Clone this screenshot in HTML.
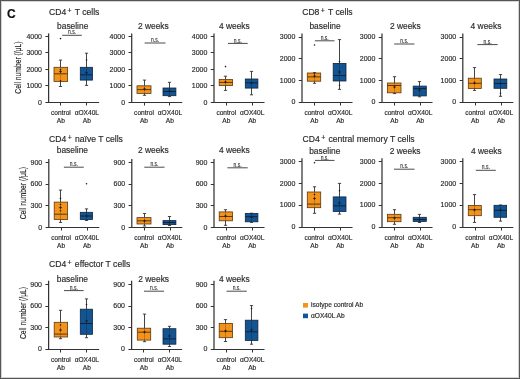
<!DOCTYPE html>
<html><head><meta charset="utf-8"><style>
html,body{margin:0;padding:0;background:#fff;}
body{width:520px;height:379px;overflow:hidden;}
svg{display:block;filter:blur(0.3px);font-family:"Liberation Sans", sans-serif;}
text{stroke:currentColor;stroke-width:0.16px;}
</style></head><body>
<svg width="520" height="379" viewBox="0 0 520 379">
<rect x="0" y="0" width="520" height="379" fill="#fff"/>
<line x1="48.6" y1="33.4" x2="48.6" y2="102.4" stroke="#333" stroke-width="1.25"/>
<line x1="46.1" y1="102.5" x2="99.1" y2="102.5" stroke="#333" stroke-width="1.15"/>
<line x1="60.5" y1="102.5" x2="60.5" y2="105.5" stroke="#333" stroke-width="1"/>
<line x1="86.5" y1="102.5" x2="86.5" y2="105.5" stroke="#333" stroke-width="1"/>
<line x1="45.4" y1="102.5" x2="48.6" y2="102.5" stroke="#333" stroke-width="1"/>
<text x="42.0" y="104.5" font-size="7.0" text-anchor="end" fill="#2a2a2a" color="#2a2a2a" >0</text>
<line x1="45.4" y1="85.5" x2="48.6" y2="85.5" stroke="#333" stroke-width="1"/>
<text x="42.0" y="88.0" font-size="7.0" text-anchor="end" fill="#2a2a2a" color="#2a2a2a" >1000</text>
<line x1="45.4" y1="69.5" x2="48.6" y2="69.5" stroke="#333" stroke-width="1"/>
<text x="42.0" y="71.5" font-size="7.0" text-anchor="end" fill="#2a2a2a" color="#2a2a2a" >2000</text>
<line x1="45.4" y1="52.5" x2="48.6" y2="52.5" stroke="#333" stroke-width="1"/>
<text x="42.0" y="55.00000000000001" font-size="7.0" text-anchor="end" fill="#2a2a2a" color="#2a2a2a" >3000</text>
<line x1="45.4" y1="36.5" x2="48.6" y2="36.5" stroke="#333" stroke-width="1"/>
<text x="42.0" y="38.50000000000001" font-size="7.0" text-anchor="end" fill="#2a2a2a" color="#2a2a2a" >4000</text>
<line x1="62.2" y1="35.3" x2="81.8" y2="35.3" stroke="#4a4a4a" stroke-width="1"/>
<text x="72.0" y="34.4" font-size="6.4" text-anchor="middle" fill="#3a3a3a" color="#3a3a3a" textLength="8" lengthAdjust="spacingAndGlyphs">n.s.</text>
<line x1="60.5" y1="60.1" x2="60.5" y2="67.3" stroke="#444" stroke-width="1"/>
<line x1="60.5" y1="81.4" x2="60.5" y2="86.5" stroke="#444" stroke-width="1"/>
<line x1="58.9" y1="60.1" x2="62.1" y2="60.1" stroke="#333" stroke-width="0.9"/>
<line x1="58.9" y1="86.5" x2="62.1" y2="86.5" stroke="#333" stroke-width="0.9"/>
<rect x="54" y="67.3" width="13.599999999999994" height="14.100000000000009" fill="#F4931B" stroke="#5a3a10" stroke-width="0.8"/>
<line x1="60.5" y1="67.3" x2="60.5" y2="81.4" stroke="#000" stroke-opacity="0.2" stroke-width="1"/>
<line x1="54" y1="73.8" x2="67.6" y2="73.8" stroke="#5a3a10" stroke-width="1"/>
<path d="M59.1 71.6h2.8M60.5 70.19999999999999v2.8" stroke="#1a1a1a" stroke-width="0.8" fill="none"/>
<circle cx="60.5" cy="38.6" r="0.8" fill="#1a1a1a"/>
<circle cx="60.5" cy="69.5" r="0.8" fill="#1a1a1a"/>
<circle cx="60.5" cy="80.8" r="0.8" fill="#1a1a1a"/>
<line x1="86.5" y1="53.2" x2="86.5" y2="67.3" stroke="#444" stroke-width="1"/>
<line x1="86.5" y1="80.1" x2="86.5" y2="85.4" stroke="#444" stroke-width="1"/>
<line x1="84.9" y1="53.2" x2="88.1" y2="53.2" stroke="#333" stroke-width="0.9"/>
<line x1="84.9" y1="85.4" x2="88.1" y2="85.4" stroke="#333" stroke-width="0.9"/>
<rect x="80.3" y="67.3" width="12.200000000000003" height="12.799999999999997" fill="#135492" stroke="#0d2440" stroke-width="0.8"/>
<line x1="86.5" y1="67.3" x2="86.5" y2="80.1" stroke="#000" stroke-opacity="0.2" stroke-width="1"/>
<line x1="80.3" y1="74.8" x2="92.5" y2="74.8" stroke="#0d2440" stroke-width="1"/>
<path d="M85.1 72.7h2.8M86.5 71.3v2.8" stroke="#1a1a1a" stroke-width="0.8" fill="none"/>
<circle cx="86.5" cy="60.0" r="0.8" fill="#1a1a1a"/>
<text x="60.900000000000006" y="114.60000000000001" font-size="6.6" text-anchor="middle" fill="#2a2a2a" color="#2a2a2a" >control</text>
<text x="60.900000000000006" y="122.7" font-size="6.6" text-anchor="middle" fill="#2a2a2a" color="#2a2a2a" >Ab</text>
<text x="86.80000000000001" y="114.60000000000001" font-size="6.6" text-anchor="middle" fill="#2a2a2a" color="#2a2a2a" >&#945;OX40L</text>
<text x="86.80000000000001" y="122.7" font-size="6.6" text-anchor="middle" fill="#2a2a2a" color="#2a2a2a" >Ab</text>
<text x="57.1" y="28.9" font-size="8.4" text-anchor="start" fill="#2a2a2a" color="#2a2a2a" >baseline</text>
<line x1="131.7" y1="33.4" x2="131.7" y2="102.4" stroke="#333" stroke-width="1.25"/>
<line x1="129.2" y1="102.5" x2="182.2" y2="102.5" stroke="#333" stroke-width="1.15"/>
<line x1="144.5" y1="102.5" x2="144.5" y2="105.5" stroke="#333" stroke-width="1"/>
<line x1="169.5" y1="102.5" x2="169.5" y2="105.5" stroke="#333" stroke-width="1"/>
<line x1="128.5" y1="102.5" x2="131.7" y2="102.5" stroke="#333" stroke-width="1"/>
<text x="125.1" y="104.5" font-size="7.0" text-anchor="end" fill="#2a2a2a" color="#2a2a2a" >0</text>
<line x1="128.5" y1="85.5" x2="131.7" y2="85.5" stroke="#333" stroke-width="1"/>
<text x="125.1" y="88.0" font-size="7.0" text-anchor="end" fill="#2a2a2a" color="#2a2a2a" >1000</text>
<line x1="128.5" y1="69.5" x2="131.7" y2="69.5" stroke="#333" stroke-width="1"/>
<text x="125.1" y="71.5" font-size="7.0" text-anchor="end" fill="#2a2a2a" color="#2a2a2a" >2000</text>
<line x1="128.5" y1="52.5" x2="131.7" y2="52.5" stroke="#333" stroke-width="1"/>
<text x="125.1" y="55.00000000000001" font-size="7.0" text-anchor="end" fill="#2a2a2a" color="#2a2a2a" >3000</text>
<line x1="128.5" y1="36.5" x2="131.7" y2="36.5" stroke="#333" stroke-width="1"/>
<text x="125.1" y="38.50000000000001" font-size="7.0" text-anchor="end" fill="#2a2a2a" color="#2a2a2a" >4000</text>
<line x1="144.6" y1="43.0" x2="165.5" y2="43.0" stroke="#4a4a4a" stroke-width="1"/>
<text x="155.05" y="42.1" font-size="6.4" text-anchor="middle" fill="#3a3a3a" color="#3a3a3a" textLength="8" lengthAdjust="spacingAndGlyphs">n.s.</text>
<line x1="144.5" y1="80.1" x2="144.5" y2="85.8" stroke="#444" stroke-width="1"/>
<line x1="144.5" y1="93.4" x2="144.5" y2="95.3" stroke="#444" stroke-width="1"/>
<line x1="142.9" y1="80.1" x2="146.1" y2="80.1" stroke="#333" stroke-width="0.9"/>
<line x1="142.9" y1="95.3" x2="146.1" y2="95.3" stroke="#333" stroke-width="0.9"/>
<rect x="137" y="85.8" width="14" height="7.6000000000000085" fill="#F4931B" stroke="#5a3a10" stroke-width="0.8"/>
<line x1="144.5" y1="85.8" x2="144.5" y2="93.4" stroke="#000" stroke-opacity="0.2" stroke-width="1"/>
<line x1="137" y1="89.6" x2="151" y2="89.6" stroke="#5a3a10" stroke-width="1"/>
<path d="M143.1 89.0h2.8M144.5 87.6v2.8" stroke="#1a1a1a" stroke-width="0.8" fill="none"/>
<line x1="169.5" y1="82.3" x2="169.5" y2="88" stroke="#444" stroke-width="1"/>
<line x1="169.5" y1="95.7" x2="169.5" y2="96.6" stroke="#444" stroke-width="1"/>
<line x1="167.9" y1="82.3" x2="171.1" y2="82.3" stroke="#333" stroke-width="0.9"/>
<line x1="167.9" y1="96.6" x2="171.1" y2="96.6" stroke="#333" stroke-width="0.9"/>
<rect x="163" y="88" width="12.900000000000006" height="7.700000000000003" fill="#135492" stroke="#0d2440" stroke-width="0.8"/>
<line x1="169.5" y1="88" x2="169.5" y2="95.7" stroke="#000" stroke-opacity="0.2" stroke-width="1"/>
<line x1="163" y1="91.5" x2="175.9" y2="91.5" stroke="#0d2440" stroke-width="1"/>
<path d="M168.1 91.0h2.8M169.5 89.6v2.8" stroke="#1a1a1a" stroke-width="0.8" fill="none"/>
<text x="144.0" y="114.60000000000001" font-size="6.6" text-anchor="middle" fill="#2a2a2a" color="#2a2a2a" >control</text>
<text x="144.0" y="122.7" font-size="6.6" text-anchor="middle" fill="#2a2a2a" color="#2a2a2a" >Ab</text>
<text x="169.89999999999998" y="114.60000000000001" font-size="6.6" text-anchor="middle" fill="#2a2a2a" color="#2a2a2a" >&#945;OX40L</text>
<text x="169.89999999999998" y="122.7" font-size="6.6" text-anchor="middle" fill="#2a2a2a" color="#2a2a2a" >Ab</text>
<text x="138" y="29.0" font-size="8.4" text-anchor="start" fill="#2a2a2a" color="#2a2a2a" >2 weeks</text>
<line x1="214" y1="33.4" x2="214" y2="102.4" stroke="#333" stroke-width="1.25"/>
<line x1="211.5" y1="102.5" x2="264.5" y2="102.5" stroke="#333" stroke-width="1.15"/>
<line x1="226.5" y1="102.5" x2="226.5" y2="105.5" stroke="#333" stroke-width="1"/>
<line x1="252.5" y1="102.5" x2="252.5" y2="105.5" stroke="#333" stroke-width="1"/>
<line x1="210.8" y1="102.5" x2="214" y2="102.5" stroke="#333" stroke-width="1"/>
<text x="207.4" y="104.5" font-size="7.0" text-anchor="end" fill="#2a2a2a" color="#2a2a2a" >0</text>
<line x1="210.8" y1="85.5" x2="214" y2="85.5" stroke="#333" stroke-width="1"/>
<text x="207.4" y="88.0" font-size="7.0" text-anchor="end" fill="#2a2a2a" color="#2a2a2a" >1000</text>
<line x1="210.8" y1="69.5" x2="214" y2="69.5" stroke="#333" stroke-width="1"/>
<text x="207.4" y="71.5" font-size="7.0" text-anchor="end" fill="#2a2a2a" color="#2a2a2a" >2000</text>
<line x1="210.8" y1="52.5" x2="214" y2="52.5" stroke="#333" stroke-width="1"/>
<text x="207.4" y="55.00000000000001" font-size="7.0" text-anchor="end" fill="#2a2a2a" color="#2a2a2a" >3000</text>
<line x1="210.8" y1="36.5" x2="214" y2="36.5" stroke="#333" stroke-width="1"/>
<text x="207.4" y="38.50000000000001" font-size="7.0" text-anchor="end" fill="#2a2a2a" color="#2a2a2a" >4000</text>
<line x1="228" y1="43.4" x2="247.7" y2="43.4" stroke="#4a4a4a" stroke-width="1"/>
<text x="237.85" y="42.5" font-size="6.4" text-anchor="middle" fill="#3a3a3a" color="#3a3a3a" textLength="8" lengthAdjust="spacingAndGlyphs">n.s.</text>
<line x1="225.5" y1="76.2" x2="225.5" y2="79.4" stroke="#444" stroke-width="1"/>
<line x1="225.5" y1="85.6" x2="225.5" y2="90.4" stroke="#444" stroke-width="1"/>
<line x1="223.9" y1="76.2" x2="227.1" y2="76.2" stroke="#333" stroke-width="0.9"/>
<line x1="223.9" y1="90.4" x2="227.1" y2="90.4" stroke="#333" stroke-width="0.9"/>
<rect x="219.2" y="79.4" width="13.400000000000006" height="6.199999999999989" fill="#F4931B" stroke="#5a3a10" stroke-width="0.8"/>
<line x1="225.5" y1="79.4" x2="225.5" y2="85.6" stroke="#000" stroke-opacity="0.2" stroke-width="1"/>
<line x1="219.2" y1="82.4" x2="232.6" y2="82.4" stroke="#5a3a10" stroke-width="1"/>
<path d="M224.1 82.0h2.8M225.5 80.6v2.8" stroke="#1a1a1a" stroke-width="0.8" fill="none"/>
<circle cx="225.5" cy="66.6" r="0.8" fill="#1a1a1a"/>
<line x1="251.5" y1="71.4" x2="251.5" y2="79" stroke="#444" stroke-width="1"/>
<line x1="251.5" y1="88.1" x2="251.5" y2="94.8" stroke="#444" stroke-width="1"/>
<line x1="249.9" y1="71.4" x2="253.1" y2="71.4" stroke="#333" stroke-width="0.9"/>
<line x1="249.9" y1="94.8" x2="253.1" y2="94.8" stroke="#333" stroke-width="0.9"/>
<rect x="245.3" y="79" width="12.599999999999966" height="9.099999999999994" fill="#135492" stroke="#0d2440" stroke-width="0.8"/>
<line x1="251.5" y1="79" x2="251.5" y2="88.1" stroke="#000" stroke-opacity="0.2" stroke-width="1"/>
<line x1="245.3" y1="82.8" x2="257.9" y2="82.8" stroke="#0d2440" stroke-width="1"/>
<path d="M250.1 83.0h2.8M251.5 81.6v2.8" stroke="#1a1a1a" stroke-width="0.8" fill="none"/>
<text x="226.3" y="114.60000000000001" font-size="6.6" text-anchor="middle" fill="#2a2a2a" color="#2a2a2a" >control</text>
<text x="226.3" y="122.7" font-size="6.6" text-anchor="middle" fill="#2a2a2a" color="#2a2a2a" >Ab</text>
<text x="252.2" y="114.60000000000001" font-size="6.6" text-anchor="middle" fill="#2a2a2a" color="#2a2a2a" >&#945;OX40L</text>
<text x="252.2" y="122.7" font-size="6.6" text-anchor="middle" fill="#2a2a2a" color="#2a2a2a" >Ab</text>
<text x="219" y="29.0" font-size="8.4" text-anchor="start" fill="#2a2a2a" color="#2a2a2a" >4 weeks</text>
<line x1="302" y1="33.6" x2="302" y2="102.1" stroke="#333" stroke-width="1.25"/>
<line x1="299.5" y1="102.5" x2="352.5" y2="102.5" stroke="#333" stroke-width="1.15"/>
<line x1="314.5" y1="102.5" x2="314.5" y2="105.5" stroke="#333" stroke-width="1"/>
<line x1="340.5" y1="102.5" x2="340.5" y2="105.5" stroke="#333" stroke-width="1"/>
<line x1="298.8" y1="102.5" x2="302" y2="102.5" stroke="#333" stroke-width="1"/>
<text x="295.4" y="104.19999999999999" font-size="7.0" text-anchor="end" fill="#2a2a2a" color="#2a2a2a" >0</text>
<line x1="298.8" y1="80.5" x2="302" y2="80.5" stroke="#333" stroke-width="1"/>
<text x="295.4" y="82.6" font-size="7.0" text-anchor="end" fill="#2a2a2a" color="#2a2a2a" >1000</text>
<line x1="298.8" y1="58.5" x2="302" y2="58.5" stroke="#333" stroke-width="1"/>
<text x="295.4" y="60.99999999999999" font-size="7.0" text-anchor="end" fill="#2a2a2a" color="#2a2a2a" >2000</text>
<line x1="298.8" y1="37.5" x2="302" y2="37.5" stroke="#333" stroke-width="1"/>
<text x="295.4" y="39.399999999999984" font-size="7.0" text-anchor="end" fill="#2a2a2a" color="#2a2a2a" >3000</text>
<line x1="314.9" y1="40.8" x2="334.5" y2="40.8" stroke="#4a4a4a" stroke-width="1"/>
<text x="324.7" y="39.9" font-size="6.4" text-anchor="middle" fill="#3a3a3a" color="#3a3a3a" textLength="8" lengthAdjust="spacingAndGlyphs">n.s.</text>
<line x1="314.5" y1="72.7" x2="314.5" y2="73.0" stroke="#444" stroke-width="1"/>
<line x1="314.5" y1="81.2" x2="314.5" y2="83.3" stroke="#444" stroke-width="1"/>
<line x1="312.9" y1="72.7" x2="316.1" y2="72.7" stroke="#333" stroke-width="0.9"/>
<line x1="312.9" y1="83.3" x2="316.1" y2="83.3" stroke="#333" stroke-width="0.9"/>
<rect x="307.3" y="73.0" width="13.399999999999977" height="8.200000000000003" fill="#F4931B" stroke="#5a3a10" stroke-width="0.8"/>
<line x1="314.5" y1="73.0" x2="314.5" y2="81.2" stroke="#000" stroke-opacity="0.2" stroke-width="1"/>
<line x1="307.3" y1="76.9" x2="320.7" y2="76.9" stroke="#5a3a10" stroke-width="1"/>
<path d="M313.1 76.0h2.8M314.5 74.6v2.8" stroke="#1a1a1a" stroke-width="0.8" fill="none"/>
<circle cx="314.5" cy="45.0" r="0.8" fill="#1a1a1a"/>
<circle cx="314.5" cy="73.2" r="0.8" fill="#1a1a1a"/>
<line x1="339.5" y1="39.6" x2="339.5" y2="63.4" stroke="#444" stroke-width="1"/>
<line x1="339.5" y1="81.0" x2="339.5" y2="89.4" stroke="#444" stroke-width="1"/>
<line x1="337.9" y1="39.6" x2="341.1" y2="39.6" stroke="#333" stroke-width="0.9"/>
<line x1="337.9" y1="89.4" x2="341.1" y2="89.4" stroke="#333" stroke-width="0.9"/>
<rect x="333.2" y="63.4" width="12.800000000000011" height="17.6" fill="#135492" stroke="#0d2440" stroke-width="0.8"/>
<line x1="339.5" y1="63.4" x2="339.5" y2="81.0" stroke="#000" stroke-opacity="0.2" stroke-width="1"/>
<line x1="333.2" y1="75.5" x2="346" y2="75.5" stroke="#0d2440" stroke-width="1"/>
<path d="M338.1 72.0h2.8M339.5 70.6v2.8" stroke="#1a1a1a" stroke-width="0.8" fill="none"/>
<circle cx="339.5" cy="85.2" r="0.8" fill="#1a1a1a"/>
<circle cx="339.5" cy="61.5" r="0.8" fill="#1a1a1a"/>
<text x="314.3" y="115.2" font-size="6.6" text-anchor="middle" fill="#2a2a2a" color="#2a2a2a" >control</text>
<text x="314.3" y="122.69999999999999" font-size="6.6" text-anchor="middle" fill="#2a2a2a" color="#2a2a2a" >Ab</text>
<text x="340.2" y="115.2" font-size="6.6" text-anchor="middle" fill="#2a2a2a" color="#2a2a2a" >&#945;OX40L</text>
<text x="340.2" y="122.69999999999999" font-size="6.6" text-anchor="middle" fill="#2a2a2a" color="#2a2a2a" >Ab</text>
<text x="309.4" y="28.799999999999997" font-size="8.4" text-anchor="start" fill="#2a2a2a" color="#2a2a2a" >baseline</text>
<line x1="382" y1="33.6" x2="382" y2="102.1" stroke="#333" stroke-width="1.25"/>
<line x1="379.5" y1="102.5" x2="432.5" y2="102.5" stroke="#333" stroke-width="1.15"/>
<line x1="394.5" y1="102.5" x2="394.5" y2="105.5" stroke="#333" stroke-width="1"/>
<line x1="420.5" y1="102.5" x2="420.5" y2="105.5" stroke="#333" stroke-width="1"/>
<line x1="378.8" y1="102.5" x2="382" y2="102.5" stroke="#333" stroke-width="1"/>
<text x="375.4" y="104.19999999999999" font-size="7.0" text-anchor="end" fill="#2a2a2a" color="#2a2a2a" >0</text>
<line x1="378.8" y1="80.5" x2="382" y2="80.5" stroke="#333" stroke-width="1"/>
<text x="375.4" y="82.6" font-size="7.0" text-anchor="end" fill="#2a2a2a" color="#2a2a2a" >1000</text>
<line x1="378.8" y1="58.5" x2="382" y2="58.5" stroke="#333" stroke-width="1"/>
<text x="375.4" y="60.99999999999999" font-size="7.0" text-anchor="end" fill="#2a2a2a" color="#2a2a2a" >2000</text>
<line x1="378.8" y1="37.5" x2="382" y2="37.5" stroke="#333" stroke-width="1"/>
<text x="375.4" y="39.399999999999984" font-size="7.0" text-anchor="end" fill="#2a2a2a" color="#2a2a2a" >3000</text>
<line x1="394.2" y1="44.0" x2="414.5" y2="44.0" stroke="#4a4a4a" stroke-width="1"/>
<text x="404.35" y="43.1" font-size="6.4" text-anchor="middle" fill="#3a3a3a" color="#3a3a3a" textLength="8" lengthAdjust="spacingAndGlyphs">n.s.</text>
<line x1="394.5" y1="76.7" x2="394.5" y2="83.0" stroke="#444" stroke-width="1"/>
<line x1="394.5" y1="92.8" x2="394.5" y2="93.6" stroke="#444" stroke-width="1"/>
<line x1="392.9" y1="76.7" x2="396.1" y2="76.7" stroke="#333" stroke-width="0.9"/>
<line x1="392.9" y1="93.6" x2="396.1" y2="93.6" stroke="#333" stroke-width="0.9"/>
<rect x="387.5" y="83.0" width="13.5" height="9.799999999999997" fill="#F4931B" stroke="#5a3a10" stroke-width="0.8"/>
<line x1="394.5" y1="83.0" x2="394.5" y2="92.8" stroke="#000" stroke-opacity="0.2" stroke-width="1"/>
<line x1="387.5" y1="85.5" x2="401" y2="85.5" stroke="#5a3a10" stroke-width="1"/>
<path d="M393.1 87.0h2.8M394.5 85.6v2.8" stroke="#1a1a1a" stroke-width="0.8" fill="none"/>
<line x1="419.5" y1="81.6" x2="419.5" y2="86.1" stroke="#444" stroke-width="1"/>
<line x1="419.5" y1="95.9" x2="419.5" y2="96.8" stroke="#444" stroke-width="1"/>
<line x1="417.9" y1="81.6" x2="421.1" y2="81.6" stroke="#333" stroke-width="0.9"/>
<line x1="417.9" y1="96.8" x2="421.1" y2="96.8" stroke="#333" stroke-width="0.9"/>
<rect x="413.2" y="86.1" width="13.100000000000023" height="9.800000000000011" fill="#135492" stroke="#0d2440" stroke-width="0.8"/>
<line x1="419.5" y1="86.1" x2="419.5" y2="95.9" stroke="#000" stroke-opacity="0.2" stroke-width="1"/>
<line x1="413.2" y1="88.6" x2="426.3" y2="88.6" stroke="#0d2440" stroke-width="1"/>
<path d="M418.1 90.0h2.8M419.5 88.6v2.8" stroke="#1a1a1a" stroke-width="0.8" fill="none"/>
<text x="394.3" y="115.2" font-size="6.6" text-anchor="middle" fill="#2a2a2a" color="#2a2a2a" >control</text>
<text x="394.3" y="122.69999999999999" font-size="6.6" text-anchor="middle" fill="#2a2a2a" color="#2a2a2a" >Ab</text>
<text x="420.2" y="115.2" font-size="6.6" text-anchor="middle" fill="#2a2a2a" color="#2a2a2a" >&#945;OX40L</text>
<text x="420.2" y="122.69999999999999" font-size="6.6" text-anchor="middle" fill="#2a2a2a" color="#2a2a2a" >Ab</text>
<text x="390" y="28.9" font-size="8.4" text-anchor="start" fill="#2a2a2a" color="#2a2a2a" >2 weeks</text>
<line x1="462.8" y1="33.6" x2="462.8" y2="102.1" stroke="#333" stroke-width="1.25"/>
<line x1="460.3" y1="102.5" x2="513.3" y2="102.5" stroke="#333" stroke-width="1.15"/>
<line x1="475.5" y1="102.5" x2="475.5" y2="105.5" stroke="#333" stroke-width="1"/>
<line x1="501.5" y1="102.5" x2="501.5" y2="105.5" stroke="#333" stroke-width="1"/>
<line x1="459.6" y1="102.5" x2="462.8" y2="102.5" stroke="#333" stroke-width="1"/>
<text x="456.2" y="104.19999999999999" font-size="7.0" text-anchor="end" fill="#2a2a2a" color="#2a2a2a" >0</text>
<line x1="459.6" y1="80.5" x2="462.8" y2="80.5" stroke="#333" stroke-width="1"/>
<text x="456.2" y="82.6" font-size="7.0" text-anchor="end" fill="#2a2a2a" color="#2a2a2a" >1000</text>
<line x1="459.6" y1="58.5" x2="462.8" y2="58.5" stroke="#333" stroke-width="1"/>
<text x="456.2" y="60.99999999999999" font-size="7.0" text-anchor="end" fill="#2a2a2a" color="#2a2a2a" >2000</text>
<line x1="459.6" y1="37.5" x2="462.8" y2="37.5" stroke="#333" stroke-width="1"/>
<text x="456.2" y="39.399999999999984" font-size="7.0" text-anchor="end" fill="#2a2a2a" color="#2a2a2a" >3000</text>
<line x1="477.4" y1="44.6" x2="497.7" y2="44.6" stroke="#4a4a4a" stroke-width="1"/>
<text x="487.54999999999995" y="43.7" font-size="6.4" text-anchor="middle" fill="#3a3a3a" color="#3a3a3a" textLength="8" lengthAdjust="spacingAndGlyphs">n.s.</text>
<line x1="474.5" y1="67.6" x2="474.5" y2="78.2" stroke="#444" stroke-width="1"/>
<line x1="474.5" y1="88.5" x2="474.5" y2="90.4" stroke="#444" stroke-width="1"/>
<line x1="472.9" y1="67.6" x2="476.1" y2="67.6" stroke="#333" stroke-width="0.9"/>
<line x1="472.9" y1="90.4" x2="476.1" y2="90.4" stroke="#333" stroke-width="0.9"/>
<rect x="468.3" y="78.2" width="13.0" height="10.299999999999997" fill="#F4931B" stroke="#5a3a10" stroke-width="0.8"/>
<line x1="474.5" y1="78.2" x2="474.5" y2="88.5" stroke="#000" stroke-opacity="0.2" stroke-width="1"/>
<line x1="468.3" y1="83.3" x2="481.3" y2="83.3" stroke="#5a3a10" stroke-width="1"/>
<path d="M473.1 83.0h2.8M474.5 81.6v2.8" stroke="#1a1a1a" stroke-width="0.8" fill="none"/>
<line x1="500.5" y1="74.6" x2="500.5" y2="79" stroke="#444" stroke-width="1"/>
<line x1="500.5" y1="88.3" x2="500.5" y2="96.3" stroke="#444" stroke-width="1"/>
<line x1="498.9" y1="74.6" x2="502.1" y2="74.6" stroke="#333" stroke-width="0.9"/>
<line x1="498.9" y1="96.3" x2="502.1" y2="96.3" stroke="#333" stroke-width="0.9"/>
<rect x="494" y="79" width="12.800000000000011" height="9.299999999999997" fill="#135492" stroke="#0d2440" stroke-width="0.8"/>
<line x1="500.5" y1="79" x2="500.5" y2="88.3" stroke="#000" stroke-opacity="0.2" stroke-width="1"/>
<line x1="494" y1="83.5" x2="506.8" y2="83.5" stroke="#0d2440" stroke-width="1"/>
<path d="M499.1 83.5h2.8M500.5 82.1v2.8" stroke="#1a1a1a" stroke-width="0.8" fill="none"/>
<circle cx="500.5" cy="93.3" r="0.8" fill="#1a1a1a"/>
<text x="475.1" y="115.2" font-size="6.6" text-anchor="middle" fill="#2a2a2a" color="#2a2a2a" >control</text>
<text x="475.1" y="122.69999999999999" font-size="6.6" text-anchor="middle" fill="#2a2a2a" color="#2a2a2a" >Ab</text>
<text x="501.0" y="115.2" font-size="6.6" text-anchor="middle" fill="#2a2a2a" color="#2a2a2a" >&#945;OX40L</text>
<text x="501.0" y="122.69999999999999" font-size="6.6" text-anchor="middle" fill="#2a2a2a" color="#2a2a2a" >Ab</text>
<text x="470.6" y="28.9" font-size="8.4" text-anchor="start" fill="#2a2a2a" color="#2a2a2a" >4 weeks</text>
<line x1="48.8" y1="159" x2="48.8" y2="227.4" stroke="#333" stroke-width="1.25"/>
<line x1="46.3" y1="227.5" x2="99.3" y2="227.5" stroke="#333" stroke-width="1.15"/>
<line x1="61.5" y1="227.5" x2="61.5" y2="230.5" stroke="#333" stroke-width="1"/>
<line x1="87.5" y1="227.5" x2="87.5" y2="230.5" stroke="#333" stroke-width="1"/>
<line x1="45.599999999999994" y1="227.5" x2="48.8" y2="227.5" stroke="#333" stroke-width="1"/>
<text x="42.199999999999996" y="229.5" font-size="7.0" text-anchor="end" fill="#2a2a2a" color="#2a2a2a" >0</text>
<line x1="45.599999999999994" y1="205.5" x2="48.8" y2="205.5" stroke="#333" stroke-width="1"/>
<text x="42.199999999999996" y="207.9" font-size="7.0" text-anchor="end" fill="#2a2a2a" color="#2a2a2a" >300</text>
<line x1="45.599999999999994" y1="184.5" x2="48.8" y2="184.5" stroke="#333" stroke-width="1"/>
<text x="42.199999999999996" y="186.29999999999998" font-size="7.0" text-anchor="end" fill="#2a2a2a" color="#2a2a2a" >600</text>
<line x1="45.599999999999994" y1="162.5" x2="48.8" y2="162.5" stroke="#333" stroke-width="1"/>
<text x="42.199999999999996" y="164.7" font-size="7.0" text-anchor="end" fill="#2a2a2a" color="#2a2a2a" >900</text>
<line x1="63.9" y1="167.2" x2="83.8" y2="167.2" stroke="#4a4a4a" stroke-width="1"/>
<text x="73.85" y="166.29999999999998" font-size="6.4" text-anchor="middle" fill="#3a3a3a" color="#3a3a3a" textLength="8" lengthAdjust="spacingAndGlyphs">n.s.</text>
<line x1="60.5" y1="190.1" x2="60.5" y2="202.1" stroke="#444" stroke-width="1"/>
<line x1="60.5" y1="219.5" x2="60.5" y2="222.4" stroke="#444" stroke-width="1"/>
<line x1="58.9" y1="190.1" x2="62.1" y2="190.1" stroke="#333" stroke-width="0.9"/>
<line x1="58.9" y1="222.4" x2="62.1" y2="222.4" stroke="#333" stroke-width="0.9"/>
<rect x="54.2" y="202.1" width="13.399999999999991" height="17.400000000000006" fill="#F4931B" stroke="#5a3a10" stroke-width="0.8"/>
<line x1="60.5" y1="202.1" x2="60.5" y2="219.5" stroke="#000" stroke-opacity="0.2" stroke-width="1"/>
<line x1="54.2" y1="214.2" x2="67.6" y2="214.2" stroke="#5a3a10" stroke-width="1"/>
<path d="M59.1 207.6h2.8M60.5 206.2v2.8" stroke="#1a1a1a" stroke-width="0.8" fill="none"/>
<circle cx="60.5" cy="198.4" r="0.8" fill="#1a1a1a"/>
<circle cx="60.5" cy="204.5" r="0.8" fill="#1a1a1a"/>
<circle cx="60.5" cy="210.8" r="0.8" fill="#1a1a1a"/>
<line x1="86.5" y1="208.9" x2="86.5" y2="212.3" stroke="#444" stroke-width="1"/>
<line x1="86.5" y1="219.5" x2="86.5" y2="220.5" stroke="#444" stroke-width="1"/>
<line x1="84.9" y1="208.9" x2="88.1" y2="208.9" stroke="#333" stroke-width="0.9"/>
<line x1="84.9" y1="220.5" x2="88.1" y2="220.5" stroke="#333" stroke-width="0.9"/>
<rect x="80.3" y="212.3" width="12.200000000000003" height="7.199999999999989" fill="#135492" stroke="#0d2440" stroke-width="0.8"/>
<line x1="86.5" y1="212.3" x2="86.5" y2="219.5" stroke="#000" stroke-opacity="0.2" stroke-width="1"/>
<line x1="80.3" y1="216" x2="92.5" y2="216" stroke="#0d2440" stroke-width="1"/>
<path d="M85.1 216.0h2.8M86.5 214.6v2.8" stroke="#1a1a1a" stroke-width="0.8" fill="none"/>
<circle cx="86.5" cy="183.8" r="0.8" fill="#1a1a1a"/>
<text x="61.099999999999994" y="239.6" font-size="6.6" text-anchor="middle" fill="#2a2a2a" color="#2a2a2a" >control</text>
<text x="61.099999999999994" y="247.70000000000002" font-size="6.6" text-anchor="middle" fill="#2a2a2a" color="#2a2a2a" >Ab</text>
<text x="87.0" y="239.6" font-size="6.6" text-anchor="middle" fill="#2a2a2a" color="#2a2a2a" >&#945;OX40L</text>
<text x="87.0" y="247.70000000000002" font-size="6.6" text-anchor="middle" fill="#2a2a2a" color="#2a2a2a" >Ab</text>
<text x="56.8" y="153.1" font-size="8.4" text-anchor="start" fill="#2a2a2a" color="#2a2a2a" >baseline</text>
<line x1="131.8" y1="159" x2="131.8" y2="227.4" stroke="#333" stroke-width="1.25"/>
<line x1="129.3" y1="227.5" x2="182.3" y2="227.5" stroke="#333" stroke-width="1.15"/>
<line x1="144.5" y1="227.5" x2="144.5" y2="230.5" stroke="#333" stroke-width="1"/>
<line x1="170.5" y1="227.5" x2="170.5" y2="230.5" stroke="#333" stroke-width="1"/>
<line x1="128.60000000000002" y1="227.5" x2="131.8" y2="227.5" stroke="#333" stroke-width="1"/>
<text x="125.20000000000002" y="229.5" font-size="7.0" text-anchor="end" fill="#2a2a2a" color="#2a2a2a" >0</text>
<line x1="128.60000000000002" y1="205.5" x2="131.8" y2="205.5" stroke="#333" stroke-width="1"/>
<text x="125.20000000000002" y="207.9" font-size="7.0" text-anchor="end" fill="#2a2a2a" color="#2a2a2a" >300</text>
<line x1="128.60000000000002" y1="184.5" x2="131.8" y2="184.5" stroke="#333" stroke-width="1"/>
<text x="125.20000000000002" y="186.29999999999998" font-size="7.0" text-anchor="end" fill="#2a2a2a" color="#2a2a2a" >600</text>
<line x1="128.60000000000002" y1="162.5" x2="131.8" y2="162.5" stroke="#333" stroke-width="1"/>
<text x="125.20000000000002" y="164.7" font-size="7.0" text-anchor="end" fill="#2a2a2a" color="#2a2a2a" >900</text>
<line x1="144.3" y1="167.2" x2="164.5" y2="167.2" stroke="#4a4a4a" stroke-width="1"/>
<text x="154.4" y="166.29999999999998" font-size="6.4" text-anchor="middle" fill="#3a3a3a" color="#3a3a3a" textLength="8" lengthAdjust="spacingAndGlyphs">n.s.</text>
<line x1="144.5" y1="213.5" x2="144.5" y2="217.6" stroke="#444" stroke-width="1"/>
<line x1="144.5" y1="224.0" x2="144.5" y2="226" stroke="#444" stroke-width="1"/>
<line x1="142.9" y1="213.5" x2="146.1" y2="213.5" stroke="#333" stroke-width="0.9"/>
<line x1="142.9" y1="226" x2="146.1" y2="226" stroke="#333" stroke-width="0.9"/>
<rect x="137" y="217.6" width="14" height="6.400000000000006" fill="#F4931B" stroke="#5a3a10" stroke-width="0.8"/>
<line x1="144.5" y1="217.6" x2="144.5" y2="224.0" stroke="#000" stroke-opacity="0.2" stroke-width="1"/>
<line x1="137" y1="220.8" x2="151" y2="220.8" stroke="#5a3a10" stroke-width="1"/>
<path d="M143.1 221.0h2.8M144.5 219.6v2.8" stroke="#1a1a1a" stroke-width="0.8" fill="none"/>
<line x1="169.5" y1="216.5" x2="169.5" y2="220.6" stroke="#444" stroke-width="1"/>
<line x1="169.5" y1="224.6" x2="169.5" y2="225.5" stroke="#444" stroke-width="1"/>
<line x1="167.9" y1="216.5" x2="171.1" y2="216.5" stroke="#333" stroke-width="0.9"/>
<line x1="167.9" y1="225.5" x2="171.1" y2="225.5" stroke="#333" stroke-width="0.9"/>
<rect x="163" y="220.6" width="12.900000000000006" height="4.0" fill="#135492" stroke="#0d2440" stroke-width="0.8"/>
<line x1="169.5" y1="220.6" x2="169.5" y2="224.6" stroke="#000" stroke-opacity="0.2" stroke-width="1"/>
<line x1="163" y1="222.5" x2="175.9" y2="222.5" stroke="#0d2440" stroke-width="1"/>
<path d="M168.1 222.5h2.8M169.5 221.1v2.8" stroke="#1a1a1a" stroke-width="0.8" fill="none"/>
<text x="144.10000000000002" y="239.6" font-size="6.6" text-anchor="middle" fill="#2a2a2a" color="#2a2a2a" >control</text>
<text x="144.10000000000002" y="247.70000000000002" font-size="6.6" text-anchor="middle" fill="#2a2a2a" color="#2a2a2a" >Ab</text>
<text x="170.0" y="239.6" font-size="6.6" text-anchor="middle" fill="#2a2a2a" color="#2a2a2a" >&#945;OX40L</text>
<text x="170.0" y="247.70000000000002" font-size="6.6" text-anchor="middle" fill="#2a2a2a" color="#2a2a2a" >Ab</text>
<text x="138" y="153.3" font-size="8.4" text-anchor="start" fill="#2a2a2a" color="#2a2a2a" >2 weeks</text>
<line x1="214" y1="159" x2="214" y2="227.4" stroke="#333" stroke-width="1.25"/>
<line x1="211.5" y1="227.5" x2="264.5" y2="227.5" stroke="#333" stroke-width="1.15"/>
<line x1="226.5" y1="227.5" x2="226.5" y2="230.5" stroke="#333" stroke-width="1"/>
<line x1="252.5" y1="227.5" x2="252.5" y2="230.5" stroke="#333" stroke-width="1"/>
<line x1="210.8" y1="227.5" x2="214" y2="227.5" stroke="#333" stroke-width="1"/>
<text x="207.4" y="229.5" font-size="7.0" text-anchor="end" fill="#2a2a2a" color="#2a2a2a" >0</text>
<line x1="210.8" y1="205.5" x2="214" y2="205.5" stroke="#333" stroke-width="1"/>
<text x="207.4" y="207.9" font-size="7.0" text-anchor="end" fill="#2a2a2a" color="#2a2a2a" >300</text>
<line x1="210.8" y1="184.5" x2="214" y2="184.5" stroke="#333" stroke-width="1"/>
<text x="207.4" y="186.29999999999998" font-size="7.0" text-anchor="end" fill="#2a2a2a" color="#2a2a2a" >600</text>
<line x1="210.8" y1="162.5" x2="214" y2="162.5" stroke="#333" stroke-width="1"/>
<text x="207.4" y="164.7" font-size="7.0" text-anchor="end" fill="#2a2a2a" color="#2a2a2a" >900</text>
<line x1="227.4" y1="167.8" x2="247.7" y2="167.8" stroke="#4a4a4a" stroke-width="1"/>
<text x="237.55" y="166.9" font-size="6.4" text-anchor="middle" fill="#3a3a3a" color="#3a3a3a" textLength="8" lengthAdjust="spacingAndGlyphs">n.s.</text>
<line x1="225.5" y1="209.7" x2="225.5" y2="211.9" stroke="#444" stroke-width="1"/>
<line x1="225.5" y1="220.8" x2="225.5" y2="225.3" stroke="#444" stroke-width="1"/>
<line x1="223.9" y1="209.7" x2="227.1" y2="209.7" stroke="#333" stroke-width="0.9"/>
<line x1="223.9" y1="225.3" x2="227.1" y2="225.3" stroke="#333" stroke-width="0.9"/>
<rect x="219.2" y="211.9" width="13.400000000000006" height="8.900000000000006" fill="#F4931B" stroke="#5a3a10" stroke-width="0.8"/>
<line x1="225.5" y1="211.9" x2="225.5" y2="220.8" stroke="#000" stroke-opacity="0.2" stroke-width="1"/>
<line x1="219.2" y1="216.5" x2="232.6" y2="216.5" stroke="#5a3a10" stroke-width="1"/>
<path d="M224.1 216.0h2.8M225.5 214.6v2.8" stroke="#1a1a1a" stroke-width="0.8" fill="none"/>
<line x1="251.5" y1="213.2" x2="251.5" y2="213.5" stroke="#444" stroke-width="1"/>
<line x1="251.5" y1="221.8" x2="251.5" y2="222.4" stroke="#444" stroke-width="1"/>
<line x1="249.9" y1="213.2" x2="253.1" y2="213.2" stroke="#333" stroke-width="0.9"/>
<line x1="249.9" y1="222.4" x2="253.1" y2="222.4" stroke="#333" stroke-width="0.9"/>
<rect x="245.3" y="213.5" width="12.599999999999966" height="8.300000000000011" fill="#135492" stroke="#0d2440" stroke-width="0.8"/>
<line x1="251.5" y1="213.5" x2="251.5" y2="221.8" stroke="#000" stroke-opacity="0.2" stroke-width="1"/>
<line x1="245.3" y1="216.7" x2="257.9" y2="216.7" stroke="#0d2440" stroke-width="1"/>
<path d="M250.1 217.0h2.8M251.5 215.6v2.8" stroke="#1a1a1a" stroke-width="0.8" fill="none"/>
<text x="226.3" y="239.6" font-size="6.6" text-anchor="middle" fill="#2a2a2a" color="#2a2a2a" >control</text>
<text x="226.3" y="247.70000000000002" font-size="6.6" text-anchor="middle" fill="#2a2a2a" color="#2a2a2a" >Ab</text>
<text x="252.2" y="239.6" font-size="6.6" text-anchor="middle" fill="#2a2a2a" color="#2a2a2a" >&#945;OX40L</text>
<text x="252.2" y="247.70000000000002" font-size="6.6" text-anchor="middle" fill="#2a2a2a" color="#2a2a2a" >Ab</text>
<text x="218.9" y="153.3" font-size="8.4" text-anchor="start" fill="#2a2a2a" color="#2a2a2a" >4 weeks</text>
<line x1="302" y1="158.2" x2="302" y2="227.2" stroke="#333" stroke-width="1.25"/>
<line x1="299.5" y1="227.5" x2="352.5" y2="227.5" stroke="#333" stroke-width="1.15"/>
<line x1="314.5" y1="227.5" x2="314.5" y2="230.5" stroke="#333" stroke-width="1"/>
<line x1="340.5" y1="227.5" x2="340.5" y2="230.5" stroke="#333" stroke-width="1"/>
<line x1="298.8" y1="227.5" x2="302" y2="227.5" stroke="#333" stroke-width="1"/>
<text x="295.4" y="229.29999999999998" font-size="7.0" text-anchor="end" fill="#2a2a2a" color="#2a2a2a" >0</text>
<line x1="298.8" y1="205.5" x2="302" y2="205.5" stroke="#333" stroke-width="1"/>
<text x="295.4" y="207.45" font-size="7.0" text-anchor="end" fill="#2a2a2a" color="#2a2a2a" >1000</text>
<line x1="298.8" y1="183.5" x2="302" y2="183.5" stroke="#333" stroke-width="1"/>
<text x="295.4" y="185.6" font-size="7.0" text-anchor="end" fill="#2a2a2a" color="#2a2a2a" >2000</text>
<line x1="298.8" y1="161.5" x2="302" y2="161.5" stroke="#333" stroke-width="1"/>
<text x="295.4" y="163.74999999999997" font-size="7.0" text-anchor="end" fill="#2a2a2a" color="#2a2a2a" >3000</text>
<line x1="314.9" y1="160.4" x2="334.5" y2="160.4" stroke="#4a4a4a" stroke-width="1"/>
<text x="324.7" y="159.5" font-size="6.4" text-anchor="middle" fill="#3a3a3a" color="#3a3a3a" textLength="8" lengthAdjust="spacingAndGlyphs">n.s.</text>
<line x1="314.5" y1="186.8" x2="314.5" y2="192" stroke="#444" stroke-width="1"/>
<line x1="314.5" y1="207.7" x2="314.5" y2="213.3" stroke="#444" stroke-width="1"/>
<line x1="312.9" y1="186.8" x2="316.1" y2="186.8" stroke="#333" stroke-width="0.9"/>
<line x1="312.9" y1="213.3" x2="316.1" y2="213.3" stroke="#333" stroke-width="0.9"/>
<rect x="307.3" y="192" width="13.399999999999977" height="15.699999999999989" fill="#F4931B" stroke="#5a3a10" stroke-width="0.8"/>
<line x1="314.5" y1="192" x2="314.5" y2="207.7" stroke="#000" stroke-opacity="0.2" stroke-width="1"/>
<line x1="307.3" y1="204.1" x2="320.7" y2="204.1" stroke="#5a3a10" stroke-width="1"/>
<path d="M313.1 198.5h2.8M314.5 197.1v2.8" stroke="#1a1a1a" stroke-width="0.8" fill="none"/>
<circle cx="314.5" cy="162.7" r="0.8" fill="#1a1a1a"/>
<circle cx="314.5" cy="194.5" r="0.8" fill="#1a1a1a"/>
<line x1="339.5" y1="183.4" x2="339.5" y2="196.9" stroke="#444" stroke-width="1"/>
<line x1="339.5" y1="211.5" x2="339.5" y2="214.1" stroke="#444" stroke-width="1"/>
<line x1="337.9" y1="183.4" x2="341.1" y2="183.4" stroke="#333" stroke-width="0.9"/>
<line x1="337.9" y1="214.1" x2="341.1" y2="214.1" stroke="#333" stroke-width="0.9"/>
<rect x="333.2" y="196.9" width="12.800000000000011" height="14.599999999999994" fill="#135492" stroke="#0d2440" stroke-width="0.8"/>
<line x1="339.5" y1="196.9" x2="339.5" y2="211.5" stroke="#000" stroke-opacity="0.2" stroke-width="1"/>
<line x1="333.2" y1="205.8" x2="346" y2="205.8" stroke="#0d2440" stroke-width="1"/>
<path d="M338.1 203.0h2.8M339.5 201.6v2.8" stroke="#1a1a1a" stroke-width="0.8" fill="none"/>
<circle cx="339.5" cy="190.7" r="0.8" fill="#1a1a1a"/>
<text x="314.3" y="240.29999999999998" font-size="6.6" text-anchor="middle" fill="#2a2a2a" color="#2a2a2a" >control</text>
<text x="314.3" y="247.8" font-size="6.6" text-anchor="middle" fill="#2a2a2a" color="#2a2a2a" >Ab</text>
<text x="340.2" y="240.29999999999998" font-size="6.6" text-anchor="middle" fill="#2a2a2a" color="#2a2a2a" >&#945;OX40L</text>
<text x="340.2" y="247.8" font-size="6.6" text-anchor="middle" fill="#2a2a2a" color="#2a2a2a" >Ab</text>
<text x="309.2" y="153.8" font-size="8.4" text-anchor="start" fill="#2a2a2a" color="#2a2a2a" >baseline</text>
<line x1="382" y1="158.2" x2="382" y2="227.2" stroke="#333" stroke-width="1.25"/>
<line x1="379.5" y1="227.5" x2="432.5" y2="227.5" stroke="#333" stroke-width="1.15"/>
<line x1="394.5" y1="227.5" x2="394.5" y2="230.5" stroke="#333" stroke-width="1"/>
<line x1="420.5" y1="227.5" x2="420.5" y2="230.5" stroke="#333" stroke-width="1"/>
<line x1="378.8" y1="227.5" x2="382" y2="227.5" stroke="#333" stroke-width="1"/>
<text x="375.4" y="229.29999999999998" font-size="7.0" text-anchor="end" fill="#2a2a2a" color="#2a2a2a" >0</text>
<line x1="378.8" y1="205.5" x2="382" y2="205.5" stroke="#333" stroke-width="1"/>
<text x="375.4" y="207.45" font-size="7.0" text-anchor="end" fill="#2a2a2a" color="#2a2a2a" >1000</text>
<line x1="378.8" y1="183.5" x2="382" y2="183.5" stroke="#333" stroke-width="1"/>
<text x="375.4" y="185.6" font-size="7.0" text-anchor="end" fill="#2a2a2a" color="#2a2a2a" >2000</text>
<line x1="378.8" y1="161.5" x2="382" y2="161.5" stroke="#333" stroke-width="1"/>
<text x="375.4" y="163.74999999999997" font-size="7.0" text-anchor="end" fill="#2a2a2a" color="#2a2a2a" >3000</text>
<line x1="394" y1="169.2" x2="414.5" y2="169.2" stroke="#4a4a4a" stroke-width="1"/>
<text x="404.25" y="168.29999999999998" font-size="6.4" text-anchor="middle" fill="#3a3a3a" color="#3a3a3a" textLength="8" lengthAdjust="spacingAndGlyphs">n.s.</text>
<line x1="394.5" y1="209.7" x2="394.5" y2="214.3" stroke="#444" stroke-width="1"/>
<line x1="394.5" y1="221.7" x2="394.5" y2="224.3" stroke="#444" stroke-width="1"/>
<line x1="392.9" y1="209.7" x2="396.1" y2="209.7" stroke="#333" stroke-width="0.9"/>
<line x1="392.9" y1="224.3" x2="396.1" y2="224.3" stroke="#333" stroke-width="0.9"/>
<rect x="387.4" y="214.3" width="13.600000000000023" height="7.399999999999977" fill="#F4931B" stroke="#5a3a10" stroke-width="0.8"/>
<line x1="394.5" y1="214.3" x2="394.5" y2="221.7" stroke="#000" stroke-opacity="0.2" stroke-width="1"/>
<line x1="387.4" y1="217.7" x2="401" y2="217.7" stroke="#5a3a10" stroke-width="1"/>
<path d="M393.1 218.0h2.8M394.5 216.6v2.8" stroke="#1a1a1a" stroke-width="0.8" fill="none"/>
<line x1="419.5" y1="214.4" x2="419.5" y2="217.3" stroke="#444" stroke-width="1"/>
<line x1="419.5" y1="221.5" x2="419.5" y2="222.5" stroke="#444" stroke-width="1"/>
<line x1="417.9" y1="214.4" x2="421.1" y2="214.4" stroke="#333" stroke-width="0.9"/>
<line x1="417.9" y1="222.5" x2="421.1" y2="222.5" stroke="#333" stroke-width="0.9"/>
<rect x="413.2" y="217.3" width="13.100000000000023" height="4.199999999999989" fill="#135492" stroke="#0d2440" stroke-width="0.8"/>
<line x1="419.5" y1="217.3" x2="419.5" y2="221.5" stroke="#000" stroke-opacity="0.2" stroke-width="1"/>
<line x1="413.2" y1="219.5" x2="426.3" y2="219.5" stroke="#0d2440" stroke-width="1"/>
<path d="M418.1 219.5h2.8M419.5 218.1v2.8" stroke="#1a1a1a" stroke-width="0.8" fill="none"/>
<text x="394.3" y="240.29999999999998" font-size="6.6" text-anchor="middle" fill="#2a2a2a" color="#2a2a2a" >control</text>
<text x="394.3" y="247.8" font-size="6.6" text-anchor="middle" fill="#2a2a2a" color="#2a2a2a" >Ab</text>
<text x="420.2" y="240.29999999999998" font-size="6.6" text-anchor="middle" fill="#2a2a2a" color="#2a2a2a" >&#945;OX40L</text>
<text x="420.2" y="247.8" font-size="6.6" text-anchor="middle" fill="#2a2a2a" color="#2a2a2a" >Ab</text>
<text x="389.8" y="153.6" font-size="8.4" text-anchor="start" fill="#2a2a2a" color="#2a2a2a" >2 weeks</text>
<line x1="462.8" y1="158.2" x2="462.8" y2="227.2" stroke="#333" stroke-width="1.25"/>
<line x1="460.3" y1="227.5" x2="513.3" y2="227.5" stroke="#333" stroke-width="1.15"/>
<line x1="475.5" y1="227.5" x2="475.5" y2="230.5" stroke="#333" stroke-width="1"/>
<line x1="501.5" y1="227.5" x2="501.5" y2="230.5" stroke="#333" stroke-width="1"/>
<line x1="459.6" y1="227.5" x2="462.8" y2="227.5" stroke="#333" stroke-width="1"/>
<text x="456.2" y="229.29999999999998" font-size="7.0" text-anchor="end" fill="#2a2a2a" color="#2a2a2a" >0</text>
<line x1="459.6" y1="205.5" x2="462.8" y2="205.5" stroke="#333" stroke-width="1"/>
<text x="456.2" y="207.45" font-size="7.0" text-anchor="end" fill="#2a2a2a" color="#2a2a2a" >1000</text>
<line x1="459.6" y1="183.5" x2="462.8" y2="183.5" stroke="#333" stroke-width="1"/>
<text x="456.2" y="185.6" font-size="7.0" text-anchor="end" fill="#2a2a2a" color="#2a2a2a" >2000</text>
<line x1="459.6" y1="161.5" x2="462.8" y2="161.5" stroke="#333" stroke-width="1"/>
<text x="456.2" y="163.74999999999997" font-size="7.0" text-anchor="end" fill="#2a2a2a" color="#2a2a2a" >3000</text>
<line x1="475.8" y1="170.3" x2="495.8" y2="170.3" stroke="#4a4a4a" stroke-width="1"/>
<text x="485.8" y="169.4" font-size="6.4" text-anchor="middle" fill="#3a3a3a" color="#3a3a3a" textLength="8" lengthAdjust="spacingAndGlyphs">n.s.</text>
<line x1="474.5" y1="194.6" x2="474.5" y2="205.4" stroke="#444" stroke-width="1"/>
<line x1="474.5" y1="215.7" x2="474.5" y2="222.4" stroke="#444" stroke-width="1"/>
<line x1="472.9" y1="194.6" x2="476.1" y2="194.6" stroke="#333" stroke-width="0.9"/>
<line x1="472.9" y1="222.4" x2="476.1" y2="222.4" stroke="#333" stroke-width="0.9"/>
<rect x="468.3" y="205.4" width="13.0" height="10.299999999999983" fill="#F4931B" stroke="#5a3a10" stroke-width="0.8"/>
<line x1="474.5" y1="205.4" x2="474.5" y2="215.7" stroke="#000" stroke-opacity="0.2" stroke-width="1"/>
<line x1="468.3" y1="209.7" x2="481.3" y2="209.7" stroke="#5a3a10" stroke-width="1"/>
<path d="M473.1 210.0h2.8M474.5 208.6v2.8" stroke="#1a1a1a" stroke-width="0.8" fill="none"/>
<circle cx="474.5" cy="218.0" r="0.8" fill="#1a1a1a"/>
<line x1="500.5" y1="205" x2="500.5" y2="205.3" stroke="#444" stroke-width="1"/>
<line x1="500.5" y1="217.3" x2="500.5" y2="221.1" stroke="#444" stroke-width="1"/>
<line x1="498.9" y1="205" x2="502.1" y2="205" stroke="#333" stroke-width="0.9"/>
<line x1="498.9" y1="221.1" x2="502.1" y2="221.1" stroke="#333" stroke-width="0.9"/>
<rect x="494" y="205.3" width="12.600000000000023" height="12.0" fill="#135492" stroke="#0d2440" stroke-width="0.8"/>
<line x1="500.5" y1="205.3" x2="500.5" y2="217.3" stroke="#000" stroke-opacity="0.2" stroke-width="1"/>
<line x1="494" y1="210.4" x2="506.6" y2="210.4" stroke="#0d2440" stroke-width="1"/>
<path d="M499.1 210.0h2.8M500.5 208.6v2.8" stroke="#1a1a1a" stroke-width="0.8" fill="none"/>
<text x="475.1" y="240.29999999999998" font-size="6.6" text-anchor="middle" fill="#2a2a2a" color="#2a2a2a" >control</text>
<text x="475.1" y="247.8" font-size="6.6" text-anchor="middle" fill="#2a2a2a" color="#2a2a2a" >Ab</text>
<text x="501.0" y="240.29999999999998" font-size="6.6" text-anchor="middle" fill="#2a2a2a" color="#2a2a2a" >&#945;OX40L</text>
<text x="501.0" y="247.8" font-size="6.6" text-anchor="middle" fill="#2a2a2a" color="#2a2a2a" >Ab</text>
<text x="471" y="153.6" font-size="8.4" text-anchor="start" fill="#2a2a2a" color="#2a2a2a" >4 weeks</text>
<line x1="48.6" y1="280.7" x2="48.6" y2="349.2" stroke="#333" stroke-width="1.25"/>
<line x1="46.1" y1="349.5" x2="99.1" y2="349.5" stroke="#333" stroke-width="1.15"/>
<line x1="60.5" y1="349.5" x2="60.5" y2="352.5" stroke="#333" stroke-width="1"/>
<line x1="86.5" y1="349.5" x2="86.5" y2="352.5" stroke="#333" stroke-width="1"/>
<line x1="45.4" y1="349.5" x2="48.6" y2="349.5" stroke="#333" stroke-width="1"/>
<text x="42.0" y="351.3" font-size="7.0" text-anchor="end" fill="#2a2a2a" color="#2a2a2a" >0</text>
<line x1="45.4" y1="327.5" x2="48.6" y2="327.5" stroke="#333" stroke-width="1"/>
<text x="42.0" y="329.7" font-size="7.0" text-anchor="end" fill="#2a2a2a" color="#2a2a2a" >300</text>
<line x1="45.4" y1="306.5" x2="48.6" y2="306.5" stroke="#333" stroke-width="1"/>
<text x="42.0" y="308.1" font-size="7.0" text-anchor="end" fill="#2a2a2a" color="#2a2a2a" >600</text>
<line x1="45.4" y1="284.5" x2="48.6" y2="284.5" stroke="#333" stroke-width="1"/>
<text x="42.0" y="286.5" font-size="7.0" text-anchor="end" fill="#2a2a2a" color="#2a2a2a" >900</text>
<line x1="64" y1="290.6" x2="83.7" y2="290.6" stroke="#4a4a4a" stroke-width="1"/>
<text x="73.85" y="289.70000000000005" font-size="6.4" text-anchor="middle" fill="#3a3a3a" color="#3a3a3a" textLength="8" lengthAdjust="spacingAndGlyphs">n.s.</text>
<line x1="60.5" y1="310.3" x2="60.5" y2="322.3" stroke="#444" stroke-width="1"/>
<line x1="60.5" y1="337" x2="60.5" y2="338.7" stroke="#444" stroke-width="1"/>
<line x1="58.9" y1="310.3" x2="62.1" y2="310.3" stroke="#333" stroke-width="0.9"/>
<line x1="58.9" y1="338.7" x2="62.1" y2="338.7" stroke="#333" stroke-width="0.9"/>
<rect x="54.2" y="322.3" width="13.399999999999991" height="14.699999999999989" fill="#F4931B" stroke="#5a3a10" stroke-width="0.8"/>
<line x1="60.5" y1="322.3" x2="60.5" y2="337" stroke="#000" stroke-opacity="0.2" stroke-width="1"/>
<line x1="54.2" y1="334.1" x2="67.6" y2="334.1" stroke="#5a3a10" stroke-width="1"/>
<path d="M59.1 330.0h2.8M60.5 328.6v2.8" stroke="#1a1a1a" stroke-width="0.8" fill="none"/>
<circle cx="60.5" cy="325.0" r="0.8" fill="#1a1a1a"/>
<line x1="86.5" y1="298.9" x2="86.5" y2="309.2" stroke="#444" stroke-width="1"/>
<line x1="86.5" y1="334.3" x2="86.5" y2="337.7" stroke="#444" stroke-width="1"/>
<line x1="84.9" y1="298.9" x2="88.1" y2="298.9" stroke="#333" stroke-width="0.9"/>
<line x1="84.9" y1="337.7" x2="88.1" y2="337.7" stroke="#333" stroke-width="0.9"/>
<rect x="80.3" y="309.2" width="12.200000000000003" height="25.100000000000023" fill="#135492" stroke="#0d2440" stroke-width="0.8"/>
<line x1="86.5" y1="309.2" x2="86.5" y2="334.3" stroke="#000" stroke-opacity="0.2" stroke-width="1"/>
<line x1="80.3" y1="323.5" x2="92.5" y2="323.5" stroke="#0d2440" stroke-width="1"/>
<path d="M85.1 321.0h2.8M86.5 319.6v2.8" stroke="#1a1a1a" stroke-width="0.8" fill="none"/>
<circle cx="86.5" cy="304.6" r="0.8" fill="#1a1a1a"/>
<text x="60.900000000000006" y="362.4" font-size="6.6" text-anchor="middle" fill="#2a2a2a" color="#2a2a2a" >control</text>
<text x="60.900000000000006" y="369.5" font-size="6.6" text-anchor="middle" fill="#2a2a2a" color="#2a2a2a" >Ab</text>
<text x="86.80000000000001" y="362.4" font-size="6.6" text-anchor="middle" fill="#2a2a2a" color="#2a2a2a" >&#945;OX40L</text>
<text x="86.80000000000001" y="369.5" font-size="6.6" text-anchor="middle" fill="#2a2a2a" color="#2a2a2a" >Ab</text>
<text x="56.8" y="282.2" font-size="8.4" text-anchor="start" fill="#2a2a2a" color="#2a2a2a" >baseline</text>
<line x1="131.6" y1="280.7" x2="131.6" y2="349.2" stroke="#333" stroke-width="1.25"/>
<line x1="129.1" y1="349.5" x2="182.1" y2="349.5" stroke="#333" stroke-width="1.15"/>
<line x1="143.5" y1="349.5" x2="143.5" y2="352.5" stroke="#333" stroke-width="1"/>
<line x1="169.5" y1="349.5" x2="169.5" y2="352.5" stroke="#333" stroke-width="1"/>
<line x1="128.4" y1="349.5" x2="131.6" y2="349.5" stroke="#333" stroke-width="1"/>
<text x="125.0" y="351.3" font-size="7.0" text-anchor="end" fill="#2a2a2a" color="#2a2a2a" >0</text>
<line x1="128.4" y1="327.5" x2="131.6" y2="327.5" stroke="#333" stroke-width="1"/>
<text x="125.0" y="329.7" font-size="7.0" text-anchor="end" fill="#2a2a2a" color="#2a2a2a" >300</text>
<line x1="128.4" y1="306.5" x2="131.6" y2="306.5" stroke="#333" stroke-width="1"/>
<text x="125.0" y="308.1" font-size="7.0" text-anchor="end" fill="#2a2a2a" color="#2a2a2a" >600</text>
<line x1="128.4" y1="284.5" x2="131.6" y2="284.5" stroke="#333" stroke-width="1"/>
<text x="125.0" y="286.5" font-size="7.0" text-anchor="end" fill="#2a2a2a" color="#2a2a2a" >900</text>
<line x1="144" y1="291.2" x2="164" y2="291.2" stroke="#4a4a4a" stroke-width="1"/>
<text x="154.0" y="290.3" font-size="6.4" text-anchor="middle" fill="#3a3a3a" color="#3a3a3a" textLength="8" lengthAdjust="spacingAndGlyphs">n.s.</text>
<line x1="144.5" y1="314.1" x2="144.5" y2="328.2" stroke="#444" stroke-width="1"/>
<line x1="144.5" y1="340.1" x2="144.5" y2="341.7" stroke="#444" stroke-width="1"/>
<line x1="142.9" y1="314.1" x2="146.1" y2="314.1" stroke="#333" stroke-width="0.9"/>
<line x1="142.9" y1="341.7" x2="146.1" y2="341.7" stroke="#333" stroke-width="0.9"/>
<rect x="137.3" y="328.2" width="13.399999999999977" height="11.900000000000034" fill="#F4931B" stroke="#5a3a10" stroke-width="0.8"/>
<line x1="144.5" y1="328.2" x2="144.5" y2="340.1" stroke="#000" stroke-opacity="0.2" stroke-width="1"/>
<line x1="137.3" y1="332.2" x2="150.7" y2="332.2" stroke="#5a3a10" stroke-width="1"/>
<path d="M143.1 332.0h2.8M144.5 330.6v2.8" stroke="#1a1a1a" stroke-width="0.8" fill="none"/>
<line x1="169.5" y1="326.3" x2="169.5" y2="328.7" stroke="#444" stroke-width="1"/>
<line x1="169.5" y1="344.2" x2="169.5" y2="346.5" stroke="#444" stroke-width="1"/>
<line x1="167.9" y1="326.3" x2="171.1" y2="326.3" stroke="#333" stroke-width="0.9"/>
<line x1="167.9" y1="346.5" x2="171.1" y2="346.5" stroke="#333" stroke-width="0.9"/>
<rect x="163" y="328.7" width="12.900000000000006" height="15.5" fill="#135492" stroke="#0d2440" stroke-width="0.8"/>
<line x1="169.5" y1="328.7" x2="169.5" y2="344.2" stroke="#000" stroke-opacity="0.2" stroke-width="1"/>
<line x1="163" y1="338.9" x2="175.9" y2="338.9" stroke="#0d2440" stroke-width="1"/>
<path d="M168.1 336.0h2.8M169.5 334.6v2.8" stroke="#1a1a1a" stroke-width="0.8" fill="none"/>
<text x="143.9" y="362.4" font-size="6.6" text-anchor="middle" fill="#2a2a2a" color="#2a2a2a" >control</text>
<text x="143.9" y="369.5" font-size="6.6" text-anchor="middle" fill="#2a2a2a" color="#2a2a2a" >Ab</text>
<text x="169.8" y="362.4" font-size="6.6" text-anchor="middle" fill="#2a2a2a" color="#2a2a2a" >&#945;OX40L</text>
<text x="169.8" y="369.5" font-size="6.6" text-anchor="middle" fill="#2a2a2a" color="#2a2a2a" >Ab</text>
<text x="138.3" y="282.0" font-size="8.4" text-anchor="start" fill="#2a2a2a" color="#2a2a2a" >2 weeks</text>
<line x1="214" y1="280.7" x2="214" y2="349.2" stroke="#333" stroke-width="1.25"/>
<line x1="211.5" y1="349.5" x2="264.5" y2="349.5" stroke="#333" stroke-width="1.15"/>
<line x1="226.5" y1="349.5" x2="226.5" y2="352.5" stroke="#333" stroke-width="1"/>
<line x1="252.5" y1="349.5" x2="252.5" y2="352.5" stroke="#333" stroke-width="1"/>
<line x1="210.8" y1="349.5" x2="214" y2="349.5" stroke="#333" stroke-width="1"/>
<text x="207.4" y="351.3" font-size="7.0" text-anchor="end" fill="#2a2a2a" color="#2a2a2a" >0</text>
<line x1="210.8" y1="327.5" x2="214" y2="327.5" stroke="#333" stroke-width="1"/>
<text x="207.4" y="329.7" font-size="7.0" text-anchor="end" fill="#2a2a2a" color="#2a2a2a" >300</text>
<line x1="210.8" y1="306.5" x2="214" y2="306.5" stroke="#333" stroke-width="1"/>
<text x="207.4" y="308.1" font-size="7.0" text-anchor="end" fill="#2a2a2a" color="#2a2a2a" >600</text>
<line x1="210.8" y1="284.5" x2="214" y2="284.5" stroke="#333" stroke-width="1"/>
<text x="207.4" y="286.5" font-size="7.0" text-anchor="end" fill="#2a2a2a" color="#2a2a2a" >900</text>
<line x1="226.5" y1="291.2" x2="246.8" y2="291.2" stroke="#4a4a4a" stroke-width="1"/>
<text x="236.65" y="290.3" font-size="6.4" text-anchor="middle" fill="#3a3a3a" color="#3a3a3a" textLength="8" lengthAdjust="spacingAndGlyphs">n.s.</text>
<line x1="225.5" y1="319.6" x2="225.5" y2="323.4" stroke="#444" stroke-width="1"/>
<line x1="225.5" y1="337.7" x2="225.5" y2="341.5" stroke="#444" stroke-width="1"/>
<line x1="223.9" y1="319.6" x2="227.1" y2="319.6" stroke="#333" stroke-width="0.9"/>
<line x1="223.9" y1="341.5" x2="227.1" y2="341.5" stroke="#333" stroke-width="0.9"/>
<rect x="219.2" y="323.4" width="13.400000000000006" height="14.300000000000011" fill="#F4931B" stroke="#5a3a10" stroke-width="0.8"/>
<line x1="225.5" y1="323.4" x2="225.5" y2="337.7" stroke="#000" stroke-opacity="0.2" stroke-width="1"/>
<line x1="219.2" y1="331.3" x2="232.6" y2="331.3" stroke="#5a3a10" stroke-width="1"/>
<path d="M224.1 331.0h2.8M225.5 329.6v2.8" stroke="#1a1a1a" stroke-width="0.8" fill="none"/>
<line x1="251.5" y1="305.6" x2="251.5" y2="320.2" stroke="#444" stroke-width="1"/>
<line x1="251.5" y1="340.4" x2="251.5" y2="344.2" stroke="#444" stroke-width="1"/>
<line x1="249.9" y1="305.6" x2="253.1" y2="305.6" stroke="#333" stroke-width="0.9"/>
<line x1="249.9" y1="344.2" x2="253.1" y2="344.2" stroke="#333" stroke-width="0.9"/>
<rect x="245.3" y="320.2" width="12.599999999999966" height="20.19999999999999" fill="#135492" stroke="#0d2440" stroke-width="0.8"/>
<line x1="251.5" y1="320.2" x2="251.5" y2="340.4" stroke="#000" stroke-opacity="0.2" stroke-width="1"/>
<line x1="245.3" y1="331.8" x2="257.9" y2="331.8" stroke="#0d2440" stroke-width="1"/>
<path d="M250.1 330.0h2.8M251.5 328.6v2.8" stroke="#1a1a1a" stroke-width="0.8" fill="none"/>
<circle cx="251.5" cy="308.5" r="0.8" fill="#1a1a1a"/>
<text x="226.3" y="362.4" font-size="6.6" text-anchor="middle" fill="#2a2a2a" color="#2a2a2a" >control</text>
<text x="226.3" y="369.5" font-size="6.6" text-anchor="middle" fill="#2a2a2a" color="#2a2a2a" >Ab</text>
<text x="252.2" y="362.4" font-size="6.6" text-anchor="middle" fill="#2a2a2a" color="#2a2a2a" >&#945;OX40L</text>
<text x="252.2" y="369.5" font-size="6.6" text-anchor="middle" fill="#2a2a2a" color="#2a2a2a" >Ab</text>
<text x="218.9" y="282.0" font-size="8.4" text-anchor="start" fill="#2a2a2a" color="#2a2a2a" >4 weeks</text>
<text x="49" y="15.299999999999999" font-size="8.6" fill="#2a2a2a" color="#2a2a2a">CD4<tspan font-size="7.0" dy="-2.2" dx="1.4">+</tspan><tspan dy="2.2" dx="0.8"> T cells</tspan></text>
<text x="302.2" y="15.1" font-size="8.6" fill="#2a2a2a" color="#2a2a2a">CD8<tspan font-size="7.0" dy="-2.2" dx="1.4">+</tspan><tspan dy="2.2" dx="0.8"> T cells</tspan></text>
<text x="49.1" y="141.9" font-size="8.6" fill="#2a2a2a" color="#2a2a2a">CD4<tspan font-size="7.0" dy="-2.2" dx="1.4">+</tspan><tspan dy="2.2" dx="0.8"> na&#239;ve T cells</tspan></text>
<text x="302.6" y="141.7" font-size="8.6" fill="#2a2a2a" color="#2a2a2a">CD4<tspan font-size="7.0" dy="-2.2" dx="1.4">+</tspan><tspan dy="2.2" dx="0.8"> central memory T cells</tspan></text>
<text x="49" y="267.1" font-size="8.6" fill="#2a2a2a" color="#2a2a2a">CD4<tspan font-size="7.0" dy="-2.2" dx="1.4">+</tspan><tspan dy="2.2" dx="0.8"> effector T cells</tspan></text>
<text x="6.9" y="17.5" font-size="12" font-weight="bold" fill="#111" stroke="#111" stroke-width="0.45">C</text>
<text x="0" y="0" font-size="8.8" fill="#333" stroke="#333" stroke-width="0.4" text-anchor="middle" textLength="52.2" lengthAdjust="spacingAndGlyphs" transform="translate(21.2,67.6) rotate(-90)">Cell number (/&#956;L)</text>
<text x="0" y="0" font-size="8.8" fill="#333" stroke="#333" stroke-width="0.4" text-anchor="middle" textLength="52.2" lengthAdjust="spacingAndGlyphs" transform="translate(25.8,193.2) rotate(-90)">Cell number (/&#956;L)</text>
<text x="0" y="0" font-size="8.8" fill="#333" stroke="#333" stroke-width="0.4" text-anchor="middle" textLength="52.2" lengthAdjust="spacingAndGlyphs" transform="translate(25.8,313.0) rotate(-90)">Cell number (/&#956;L)</text>
<rect x="303" y="303" width="5" height="4.6" fill="#F4931B"/>
<rect x="303" y="313.6" width="5" height="4.6" fill="#135492"/>
<text x="311" y="307.2" font-size="6.6" text-anchor="start" fill="#2a2a2a" color="#2a2a2a" >isotype control Ab</text>
<text x="311" y="318.0" font-size="6.6" text-anchor="start" fill="#2a2a2a" color="#2a2a2a" >&#945;OX40L Ab</text>
<rect x="1.5" y="1.5" width="517" height="376" fill="none" stroke="#d4d4d4" stroke-width="1"/>
<rect x="0.5" y="0.5" width="519" height="378" fill="none" stroke="#555" stroke-width="1"/>
</svg>
</body></html>
